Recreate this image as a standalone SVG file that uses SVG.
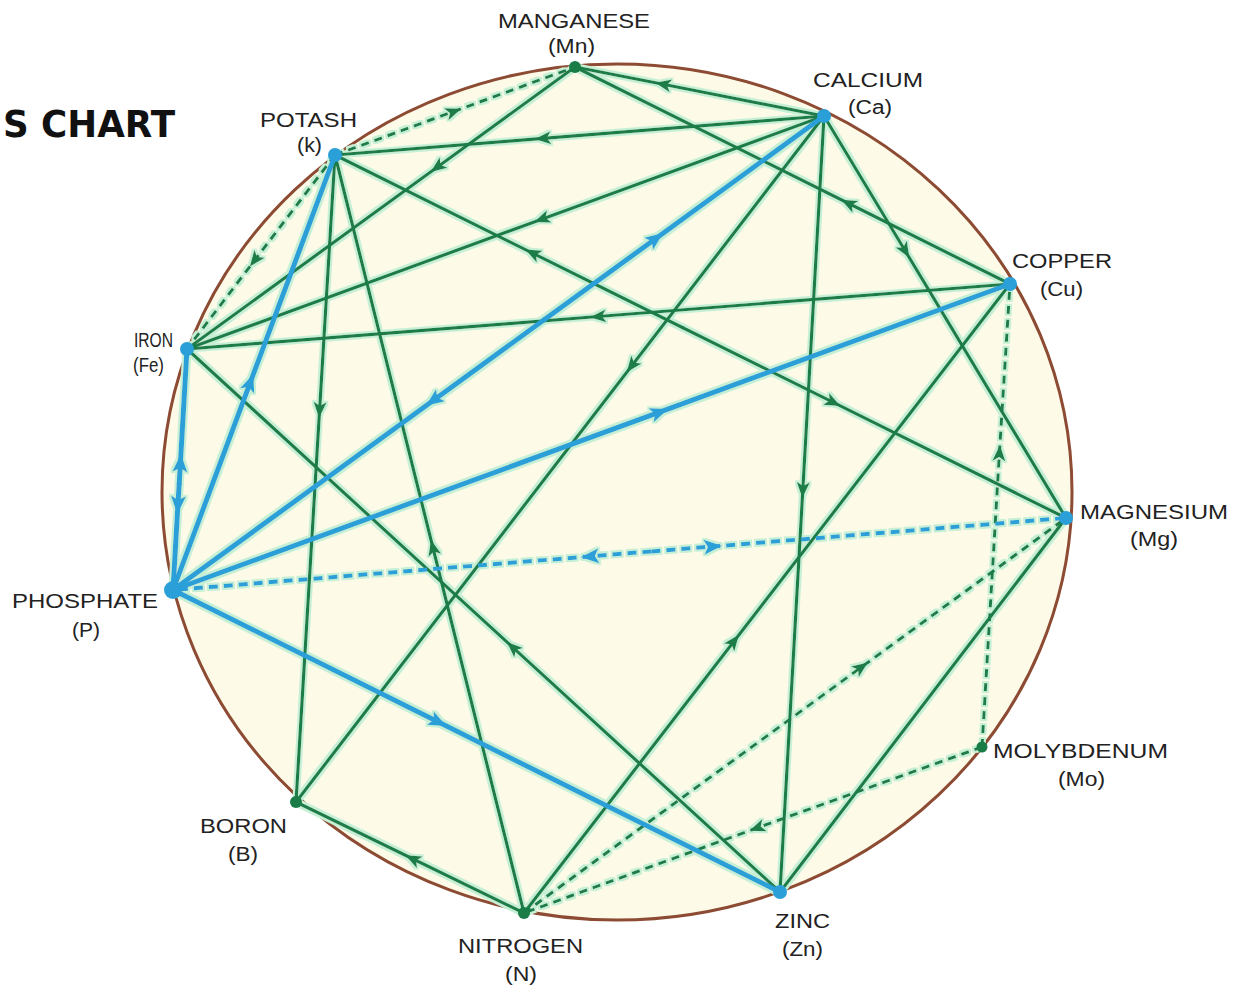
<svg xmlns="http://www.w3.org/2000/svg" width="1237" height="986" viewBox="0 0 1237 986">
<defs>
<style>
.lbl{font-family:"Liberation Sans",Arial,sans-serif;font-size:20px;fill:#222;}
.ttl{font-family:"DejaVu Sans","Liberation Sans",sans-serif;font-size:38px;font-weight:bold;fill:#111;}
.g{fill:none;stroke:#1a7d48;stroke-width:3.2;stroke-linecap:round;marker-mid:url(#ag);}
.gp{fill:none;stroke:#1a7d48;stroke-width:3.2;stroke-linecap:round;}
.gd{fill:none;stroke:#1a7d48;stroke-width:3;stroke-dasharray:8 6;marker-mid:url(#ag);}
.b{fill:none;stroke:#2a9fd8;stroke-width:5;stroke-linecap:round;marker-mid:url(#ab);}
.bd{fill:none;stroke:#2a9fd8;stroke-width:4;stroke-dasharray:9 6;marker-mid:url(#ab);}
.ng{fill:#1a7d48;}
.nb{fill:#2a9fd8;}
</style>
<marker id="ag" viewBox="-9 -8 18 16" markerWidth="18" markerHeight="16" markerUnits="userSpaceOnUse" orient="auto" refX="0" refY="0">
<path d="M8,0 L-8,-6.5 L-4,0 L-8,6.5 Z" fill="#1a7d48"/>
</marker>
<marker id="ab" viewBox="-10 -9 20 18" markerWidth="20" markerHeight="18" markerUnits="userSpaceOnUse" orient="auto" refX="0" refY="0">
<path d="M9,0 L-9,-7.5 L-5,0 L-9,7.5 Z" fill="#2a9fd8"/>
</marker>
<filter id="halo" x="-5%" y="-5%" width="110%" height="110%">
<feMorphology in="SourceAlpha" operator="dilate" radius="1.6" result="d"/>
<feFlood flood-color="#c6f0d6"/>
<feComposite in2="d" operator="in" result="h"/>
<feMerge><feMergeNode in="h"/><feMergeNode in="SourceGraphic"/></feMerge>
</filter>
</defs>

<rect width="1237" height="986" fill="#ffffff"/>
<text class="ttl" x="3" y="137" textLength="172" lengthAdjust="spacingAndGlyphs">S CHART</text>

<ellipse id="ring" cx="617" cy="492" rx="455" ry="428" fill="#fdfae8" stroke="#8c4b32" stroke-width="3"/>

<g id="connectors" filter="url(#halo)">
<!-- green solid -->
<path class="g" d="M824,116 L663.1,84.3 L575,67"/>
<path class="g" d="M1010,284 L848.3,203.3 L575,67"/>
<path class="g" d="M575,67 L437.1,167.2 L187,349"/>
<path class="g" d="M824,116 L542.9,138.4 L335,155"/>
<path class="g" d="M682.9,327.7 L532.5,253.1 L335,155"/>
<path class="g" d="M682.9,327.7 L833.3,402.4 L1066,518"/>
<path class="g" d="M335,155 L319.6,409.9 L296,802"/>
<path class="g" d="M524,913 L432.9,547.5 L335,155"/>
<path class="g" d="M824,116 L541.7,219.2 L187,349"/>
<path class="g" d="M1010,284 L598,316.5 L187,349"/>
<path class="g" d="M780,892 L512.8,647.4 L187,349"/>
<path class="g" d="M824,116 L631.6,365.9 L296,802"/>
<path class="g" d="M824,116 L802.8,490 L780,892"/>
<path class="g" d="M824,116 L905.3,251 L1066,518"/>
<path class="g" d="M524,913 L734,641.2 L1010,284"/>
<path class="gp" d="M1066,518 L780,892"/>
<path class="g" d="M524,913 L412.6,858.8 L296,802"/>
<!-- green dashed -->
<path class="gd" d="M335,155 L453.7,111.5 L575,67"/>
<path class="gd" d="M335,155 L254.7,260.2 L187,349"/>
<path class="gd" d="M982,747 L999.4,453.1 L1010,284"/>
<path class="gd" d="M524,913 L861.4,667.1 L1066,518"/>
<path class="gd" d="M982,747 L757,827.9 L524,913"/>
<!-- blue -->
<path class="b" d="M173,590 L250.3,382.4 L335,155"/>
<path class="b" d="M179.2,484 L180.4,463 L187,349"/>
<path class="b" d="M179.2,484 L177.9,505 L173,590"/>
<path class="b" d="M544.5,319.5 L433.2,400.5 L173,590"/>
<path class="b" d="M544.5,319.5 L655.9,238.4 L824,116"/>
<path class="b" d="M173,590 L659.6,412.1 L1010,284"/>
<path class="b" d="M173,590 L438.4,722.1 L780,892"/>
<path class="bd" d="M651.4,551.4 L589.9,556.4 L173,590"/>
<path class="bd" d="M651.4,551.4 L712.9,546.5 L1066,518"/>
</g>

<g id="node-mn"><circle class="ng" cx="575" cy="67" r="6"/><text class="lbl" x="498" y="28" textLength="152" lengthAdjust="spacingAndGlyphs">MANGANESE</text><text class="lbl" x="548" y="53" textLength="47" lengthAdjust="spacingAndGlyphs">(Mn)</text></g>
<g id="node-ca"><circle class="nb" cx="824" cy="116" r="7"/><text class="lbl" x="813" y="87" textLength="110" lengthAdjust="spacingAndGlyphs">CALCIUM</text><text class="lbl" x="848" y="114" textLength="44" lengthAdjust="spacingAndGlyphs">(Ca)</text></g>
<g id="node-k"><circle class="nb" cx="335" cy="155" r="7"/><text class="lbl" x="260" y="127" textLength="97" lengthAdjust="spacingAndGlyphs">POTASH</text><text class="lbl" x="297" y="152" textLength="25" lengthAdjust="spacingAndGlyphs">(k)</text></g>
<g id="node-cu"><circle class="nb" cx="1010" cy="284" r="7"/><text class="lbl" x="1012" y="268" textLength="100" lengthAdjust="spacingAndGlyphs">COPPER</text><text class="lbl" x="1040" y="296" textLength="43" lengthAdjust="spacingAndGlyphs">(Cu)</text></g>
<g id="node-fe"><circle class="nb" cx="187" cy="349" r="7"/><text class="lbl" x="134" y="347" textLength="39" lengthAdjust="spacingAndGlyphs">IRON</text><text class="lbl" x="133" y="372" textLength="31" lengthAdjust="spacingAndGlyphs">(Fe)</text></g>
<g id="node-mg"><circle class="nb" cx="1066" cy="518" r="7"/><text class="lbl" x="1080" y="519" textLength="148" lengthAdjust="spacingAndGlyphs">MAGNESIUM</text><text class="lbl" x="1130" y="546" textLength="48" lengthAdjust="spacingAndGlyphs">(Mg)</text></g>
<g id="node-p"><circle class="nb" cx="173" cy="590" r="9"/><text class="lbl" x="12" y="608" textLength="146" lengthAdjust="spacingAndGlyphs">PHOSPHATE</text><text class="lbl" x="72" y="637" textLength="28" lengthAdjust="spacingAndGlyphs">(P)</text></g>
<g id="node-mo"><circle class="ng" cx="982" cy="747" r="5.5"/><text class="lbl" x="993" y="758" textLength="175" lengthAdjust="spacingAndGlyphs">MOLYBDENUM</text><text class="lbl" x="1058" y="786" textLength="47" lengthAdjust="spacingAndGlyphs">(Mo)</text></g>
<g id="node-b"><circle class="ng" cx="296" cy="802" r="6"/><text class="lbl" x="200" y="833" textLength="87" lengthAdjust="spacingAndGlyphs">BORON</text><text class="lbl" x="228" y="861" textLength="30" lengthAdjust="spacingAndGlyphs">(B)</text></g>
<g id="node-zn"><circle class="nb" cx="780" cy="892" r="7"/><text class="lbl" x="775" y="928" textLength="55" lengthAdjust="spacingAndGlyphs">ZINC</text><text class="lbl" x="782" y="956" textLength="41" lengthAdjust="spacingAndGlyphs">(Zn)</text></g>
<g id="node-n"><circle class="ng" cx="524" cy="913" r="6"/><text class="lbl" x="458" y="953" textLength="125" lengthAdjust="spacingAndGlyphs">NITROGEN</text><text class="lbl" x="505" y="981" textLength="32" lengthAdjust="spacingAndGlyphs">(N)</text></g>
</svg>
